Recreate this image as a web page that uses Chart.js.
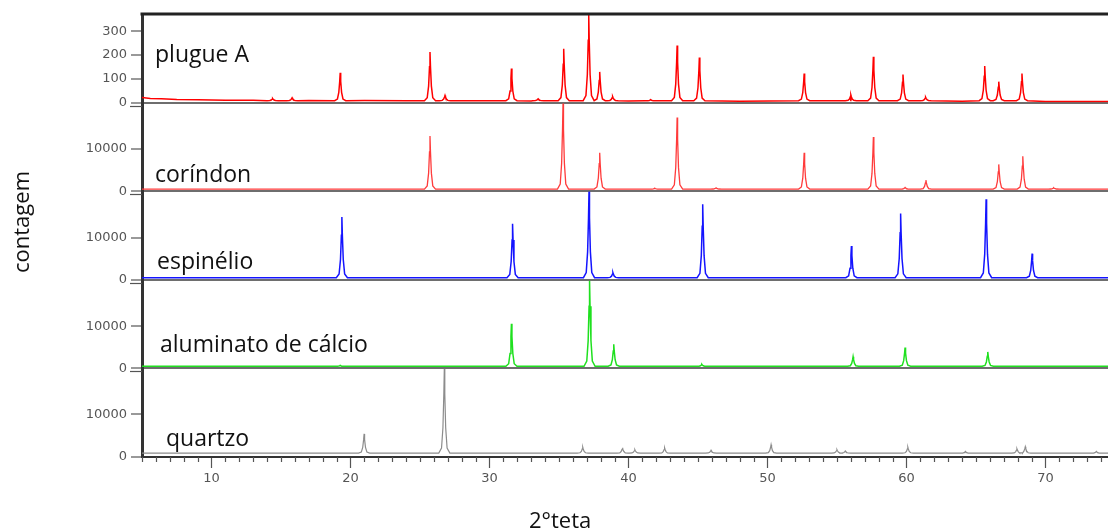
<!DOCTYPE html>
<html>
<head>
<meta charset="utf-8">
<script src="https://cdn.jsdelivr.net/npm/chart.js@4.4.1/dist/chart.umd.min.js"></script>
<style>
  html, body { margin: 0; padding: 0; background: #fff; }
  #wrap { width: 1108px; height: 532px; }
</style>
</head>
<body>
<div id="wrap"><canvas id="chart" width="1108" height="532"></canvas></div>
<script>
const xMin = 5;
const xMax = 74.5;

// panels from top to bottom
const panelNames = ["plugue A", "coríndon", "espinélio", "aluminato de cálcio", "quartzo"];
const panelMax = [372, 21000, 21000, 21000, 20700];
const panelTicks = [[0, 100, 200, 300], [0, 10000], [0, 10000], [0, 10000], [0, 10000]];
const xTickLabels = [10, 20, 30, 40, 50, 60, 70];

// plugue A (sample)
const plugueBgX = [5, 5.6, 6.4, 7.5, 9, 11, 13, 17, 21, 24, 28, 33, 40, 48, 56, 64, 70, 74.5];
const plugueBgY = [21, 17, 16, 13, 12, 10, 10, 9, 9, 8, 8, 7, 7, 6, 6, 6, 5, 5];
const pluguePos = [14.4, 15.8, 19.26, 25.72, 26.8, 31.58, 33.5, 35.34, 37.14, 37.93, 38.86, 41.6, 43.5, 45.1, 52.64, 56.0, 57.62, 59.75, 61.38, 65.63, 66.64, 68.31];
const plugueInt = [17, 20, 125, 212, 30, 143, 16, 226, 370, 129, 25, 12, 240, 189, 122, 32, 192, 118, 22, 154, 88, 122];

// reference patterns
const corindonPos = [25.72, 35.29, 37.93, 41.9, 43.5, 46.3, 52.64, 57.62, 59.9, 61.4, 66.64, 68.37, 70.6];
const corindonInt = [13100, 20800, 9100, 700, 17450, 800, 9100, 12860, 900, 2600, 6350, 8300, 800];

const espinelioPos = [19.38, 31.66, 37.16, 38.88, 45.34, 56.04, 59.58, 65.73, 69.04];
const espinelioInt = [14900, 13300, 20900, 1700, 17900, 8000, 15700, 19100, 6200];

const aluminatoPos = [19.26, 31.58, 37.2, 38.94, 45.28, 56.16, 59.9, 65.85];
const aluminatoInt = [700, 10600, 20800, 5700, 950, 2750, 4950, 3900];

const quartzoPos = [20.98, 26.75, 36.71, 39.57, 40.46, 42.6, 45.94, 50.26, 55.0, 55.6, 60.1, 64.24, 67.95, 68.55, 73.66];
const quartzoInt = [5400, 20600, 2300, 2150, 1700, 2100, 1600, 2860, 1700, 1400, 2300, 1300, 1900, 2400, 1300];

const baseLevels = [8, 500, 500, 500, 900];

// peak profile (shape only)
const profOff = [-0.4, -0.2, -0.1, -0.035, 0, 0.035, 0.1, 0.2, 0.4];
const profFrac = [0, 0.06, 0.3, 0.7, 1, 0.7, 0.3, 0.06, 0];

function buildSeries(bgX, bgY, pos, h, base) {
  var pts = [];
  for (let i = 0; i < bgX.length; i++) {
    pts.push({x: bgX[i], y: bgY[i]});
  }
  for (let i = 0; i < pos.length; i++) {
    for (let k = 0; k < profOff.length; k++) {
      pts.push({x: pos[i] + profOff[k], y: base + (h[i] - base) * profFrac[k]});
    }
  }
  pts.sort((a, b) => a.x - b.x);
  return pts;
}

const series = [
  buildSeries(plugueBgX, plugueBgY, pluguePos, plugueInt, baseLevels[0]),
  buildSeries([xMin, xMax], [baseLevels[1], baseLevels[1]], corindonPos, corindonInt, baseLevels[1]),
  buildSeries([xMin, xMax], [baseLevels[2], baseLevels[2]], espinelioPos, espinelioInt, baseLevels[2]),
  buildSeries([xMin, xMax], [baseLevels[3], baseLevels[3]], aluminatoPos, aluminatoInt, baseLevels[3]),
  buildSeries([xMin, xMax], [baseLevels[4], baseLevels[4]], quartzoPos, quartzoInt, baseLevels[4]),
];
const lineColors = ["#ff0000", "#ff3b3b", "#1414ff", "#1fe01f", "#8c8c8c"];
const lineWidths = [1.5, 1.3, 1.5, 1.5, 1.2];

const panelIds = ["yP", "yC", "yE", "yA", "yQ"];
const labelX = [155, 155, 157, 160, 166];
const labelUp = [41, 9, 11, 16, 11];

const tickFont = {family: "DejaVu Sans", size: 13};

function yScale(i) {
  return {
    type: "linear",
    position: "left",
    stack: "xrd",
    stackWeight: 1,
    min: 0,
    max: panelMax[i],
    border: {color: "#333", width: 3},
    grid: {
      drawOnChartArea: true,
      color: (c) => (c.tick && c.tick.value === 0 ? "#6e6e6e" : "rgba(0,0,0,0)"),
      lineWidth: 2,
      tickLength: 11,
      tickColor: "#555",
      tickWidth: 1.2,
    },
    ticks: {
      autoSkip: false,
      padding: 4,
      color: "#555",
      font: tickFont,
      callback: (v) => String(v),
    },
    afterBuildTicks: (a) => {
      a.ticks = panelTicks[i].map((v) => ({value: v}));
    },
    afterFit: (a) => {
      a.width = 142;
    },
  };
}

const scales = {
  x: {
    type: "linear",
    position: "bottom",
    min: xMin,
    max: xMax,
    border: {color: "#333", width: 2},
    grid: {
      drawOnChartArea: false,
      tickLength: 11,
      tickWidth: 1.2,
      tickColor: (c) => (xTickLabels.includes(c.tick.value) ? "#555" : "rgba(0,0,0,0)"),
    },
    ticks: {
      stepSize: 1,
      includeBounds: false,
      autoSkip: false,
      maxRotation: 0,
      padding: 3,
      color: "#555",
      font: tickFont,
      callback: (v) => (xTickLabels.includes(v) ? String(v) : ""),
    },
    afterFit: (a) => {
      a.height = 75;
    },
  },
};
// bottom panel first, stacked upwards
for (let i = panelIds.length - 1; i >= 0; i--) {
  scales[panelIds[i]] = yScale(i);
}

const decor = {
  id: "decor",
  afterDraw(chart) {
    const {ctx, chartArea, scales} = chart;
    ctx.save();
    // frame top
    ctx.strokeStyle = "#222";
    ctx.lineWidth = 3;
    ctx.beginPath();
    ctx.moveTo(chartArea.left - 1.5, chartArea.top);
    ctx.lineTo(chartArea.right, chartArea.top);
    ctx.stroke();

    // minor ticks on x
    ctx.strokeStyle = "#555";
    ctx.lineWidth = 1.2;
    for (let v = Math.ceil(xMin); v <= xMax; v++) {
      if (xTickLabels.includes(v)) continue;
      const px = Math.round(scales.x.getPixelForValue(v)) + 0.5;
      ctx.beginPath();
      ctx.moveTo(px, chartArea.bottom);
      ctx.lineTo(px, chartArea.bottom + 5);
      ctx.stroke();
    }

    // second mark under each zero tick (axis break look)
    for (let i = 0; i < 4; i++) {
      const s = scales[panelIds[i]];
      const py = Math.round(s.getPixelForValue(0)) + 3.5;
      ctx.beginPath();
      ctx.moveTo(chartArea.left - 12, py);
      ctx.lineTo(chartArea.left, py);
      ctx.stroke();
    }

    // panel names
    ctx.fillStyle = "#111";
    ctx.font = "23px 'Open Sans'";
    ctx.textAlign = "left";
    ctx.textBaseline = "alphabetic";
    for (let i = 0; i < panelNames.length; i++) {
      const s = scales[panelIds[i]];
      ctx.fillText(panelNames[i], labelX[i], s.getPixelForValue(0) - labelUp[i]);
    }

    // axis titles
    ctx.font = "22px 'Open Sans'";
    ctx.fillText("2°teta", 529, 528);
    ctx.translate(29, 222);
    ctx.rotate(-Math.PI / 2);
    ctx.textAlign = "center";
    ctx.fillText("contagem", 0, 0);
    ctx.restore();
  },
};

new Chart(document.getElementById("chart"), {
  type: "line",
  data: {
    datasets: series.map((d, i) => ({
      label: panelNames[i],
      data: d,
      yAxisID: panelIds[i],
      borderColor: lineColors[i],
      borderWidth: lineWidths[i],
      pointRadius: 0,
      tension: 0,
      fill: false,
    })),
  },
  options: {
    responsive: false,
    animation: false,
    devicePixelRatio: 1,
    layout: {padding: {top: 14, right: 0, bottom: 0, left: 0}},
    plugins: {legend: {display: false}, tooltip: {enabled: false}},
    scales: scales,
  },
  plugins: [decor],
});
</script>
</body>
</html>
